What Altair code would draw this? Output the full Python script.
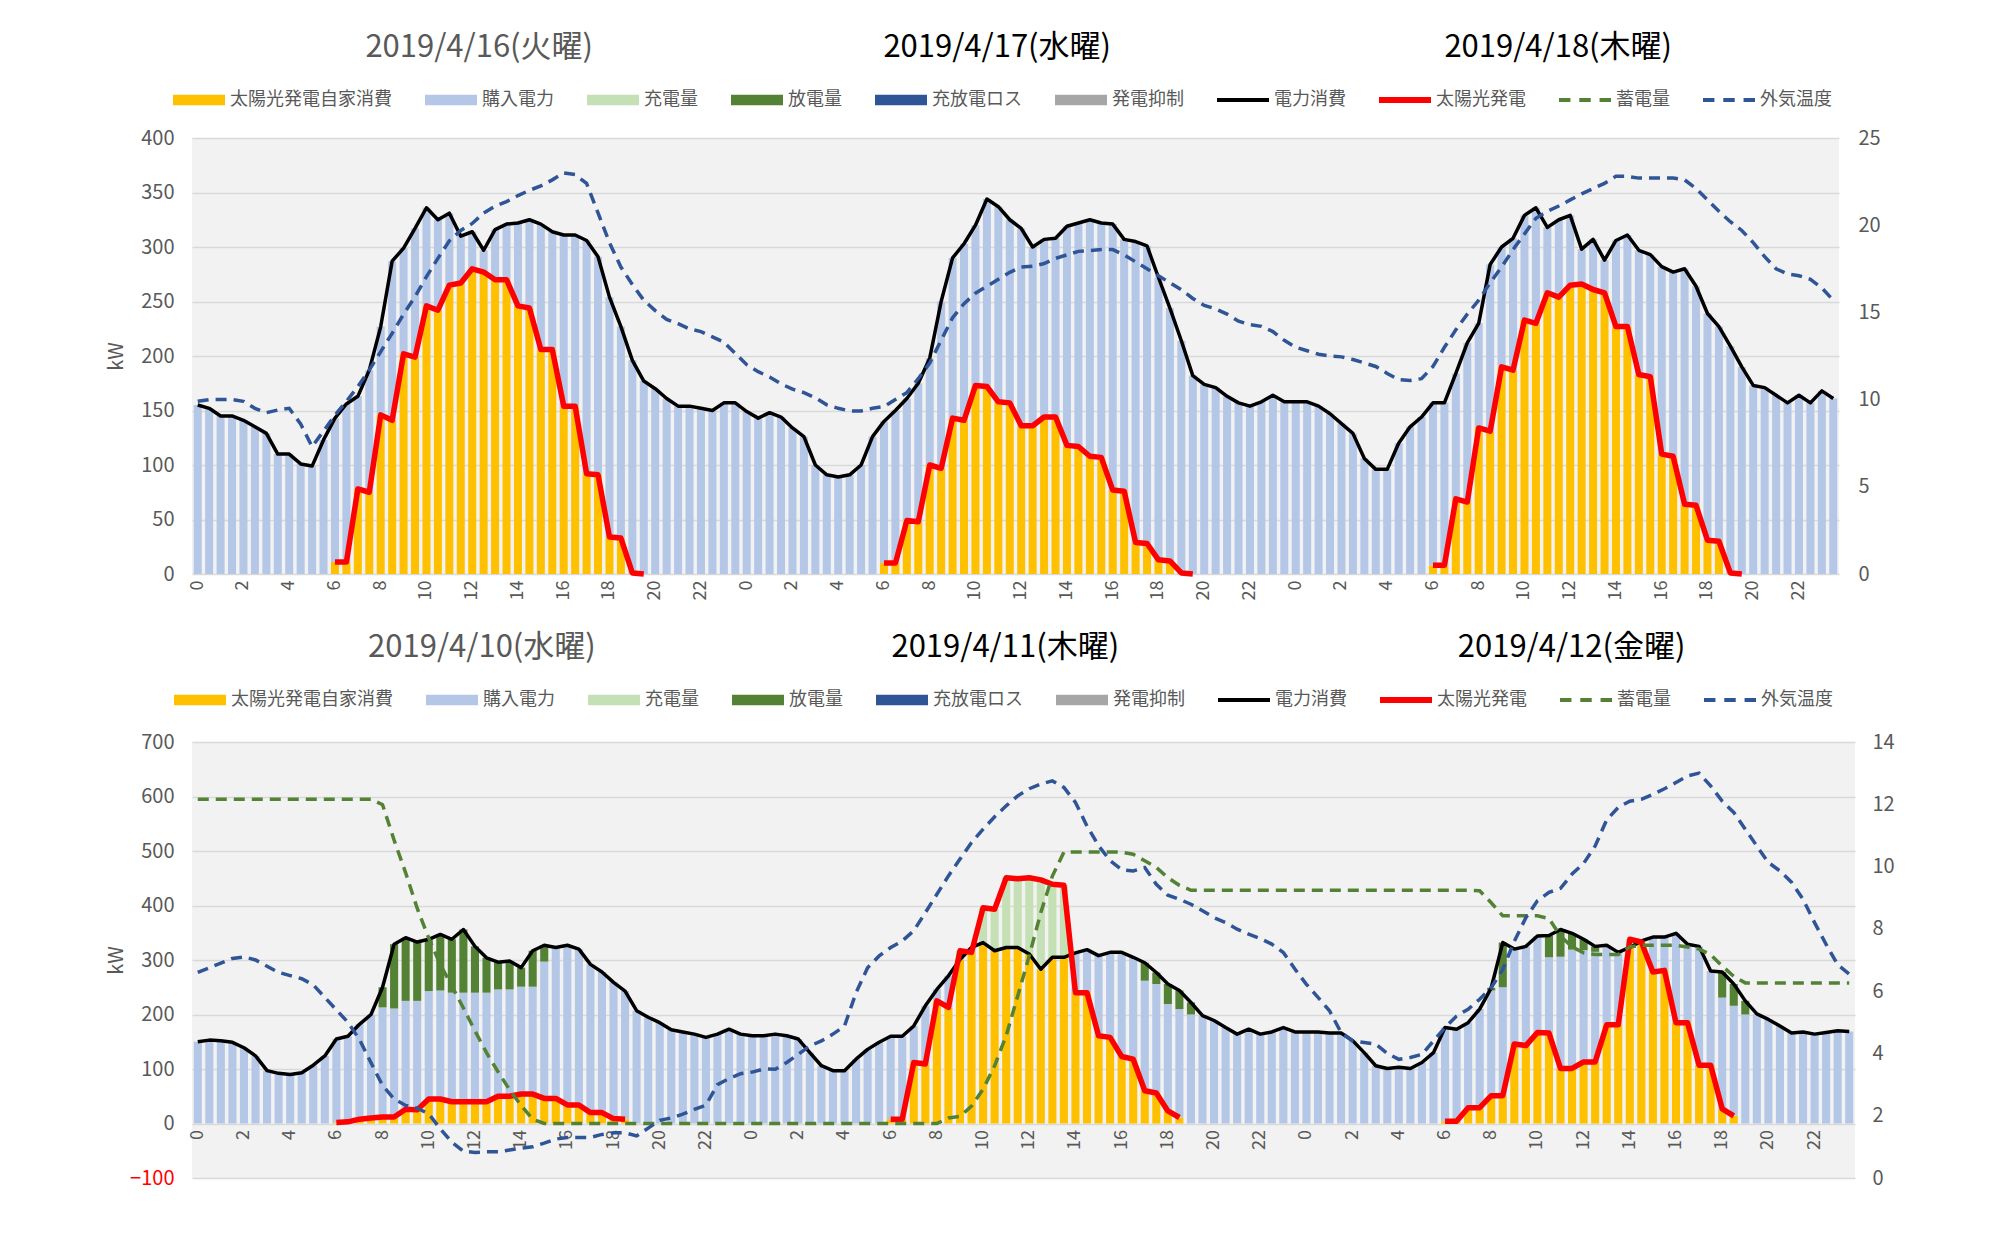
import altair as alt
import pandas as pd

FONT = "Noto Sans CJK JP"
GREY = "#595959"
N = 144
slots = list(range(N))
tick_slots = list(range(0, N, 4))

# ---------------- legend ----------------
legend_names = ["太陽光発電自家消費", "購入電力", "充電量", "放電量", "充放電ロス",
                "発電抑制", "電力消費", "太陽光発電", "蓄電量", "外気温度"]
legend_colors = ["#FFC000", "#B4C7E7", "#C5E0B4", "#548235", "#2F5597",
                 "#A6A6A6", "#000000", "#FF0000", "#548235", "#2F5597"]
RECT = "M-1,-0.2H1V0.2H-1Z"
LINE = "M-1,-0.075H1V0.075H-1Z"
THICK = "M-1,-0.12H1V0.12H-1Z"
DASH = "M-1,-0.075H-0.56V0.075H-1Z M-0.22,-0.075H0.22V0.075H-0.22Z M0.56,-0.075H1V0.075H0.56Z"
legend_shapes = [RECT] * 6 + [LINE, THICK, DASH, DASH]
bar_colors = ["#FFC000", "#B4C7E7", "#C5E0B4", "#548235"]

# ---------------- top panel (2019/4/16-18) ----------------
top_titles = ["2019/4/16(火曜)", "2019/4/17(水曜)", "2019/4/18(木曜)"]
top_consumption = [
    155, 152, 145, 145, 141, 135, 129, 110, 110, 101, 99, 123, 143, 156, 163, 187, 227, 287, 299, 317,
    336, 325, 331, 310, 314, 297, 316, 321, 322, 325, 321, 314, 311, 311, 306, 291, 254, 227, 196, 177,
    170, 161, 154, 154, 152, 150, 157, 157,
    149, 143, 148, 144, 134, 126, 100, 91, 89, 91, 100, 126, 140, 150, 161, 175, 198, 250, 290, 303,
    320, 344, 337, 325, 317, 300, 307, 308, 319, 322, 325, 322, 321, 307, 305, 301, 272, 244, 214, 182,
    174, 171, 163, 157, 154, 158, 164, 158,
    158, 158, 154, 147, 138, 129, 106, 96, 96, 120, 135, 144, 157, 157, 184, 212, 230, 284, 300, 308,
    329, 336, 318, 325, 329, 298, 307, 288, 306, 311, 297, 293, 282, 277, 280, 264, 239, 227, 209, 190,
    173, 171, 164, 157, 164, 157, 168, 161]
top_solar_runs = {
    12: [11, 11, 78, 75, 146, 141, 202, 199, 246, 242, 265, 267, 280, 277, 270, 270, 246, 244, 206, 206,
         154, 154, 92, 91, 34, 33, 1, 0],
    60: [10, 10, 49, 48, 100, 97, 143, 141, 173, 172, 158, 157, 136, 136, 144, 144, 118, 117, 108, 107,
         77, 76, 29, 28, 13, 12, 1, 0],
    108: [8, 8, 69, 66, 134, 131, 190, 187, 233, 230, 258, 254, 265, 266, 261, 258, 227, 227, 183, 181,
          110, 108, 64, 63, 31, 30, 1, 0],
}
top_temperature = [
    9.9, 10.0, 10.0, 10.0, 9.9, 9.5, 9.25, 9.4, 9.5, 8.6, 7.3, 8.2, 9.1, 9.9, 10.75, 11.7, 12.75, 13.8, 14.9, 15.9,
    17.05, 18.1, 19.1, 19.7, 20.1, 20.7, 21.1, 21.35, 21.7, 22.0, 22.25, 22.6, 23.0, 22.9, 22.4, 20.7, 19.0, 17.6, 16.6, 15.7,
    15.1, 14.6, 14.35, 14.05, 13.9, 13.6, 13.3, 12.65,
    12.0, 11.6, 11.3, 10.9, 10.6, 10.4, 10.1, 9.7, 9.5, 9.35, 9.35, 9.5, 9.6, 10.0, 10.4, 11.2, 12.1, 13.4, 14.7, 15.5,
    16.1, 16.5, 16.9, 17.3, 17.6, 17.65, 17.8, 18.1, 18.3, 18.5, 18.55, 18.6, 18.6, 18.3, 17.9, 17.5, 17.1, 16.7, 16.3, 15.8,
    15.4, 15.2, 14.9, 14.5, 14.3, 14.2, 13.9, 13.4,
    13.0, 12.8, 12.6, 12.5, 12.45, 12.3, 12.1, 11.9, 11.5, 11.15, 11.1, 11.2, 11.9, 13.0, 14.0, 14.9, 15.7, 16.7, 17.6, 18.6,
    19.5, 20.4, 20.8, 21.1, 21.45, 21.8, 22.1, 22.4, 22.8, 22.8, 22.7, 22.7, 22.7, 22.7, 22.6, 22.1, 21.45, 20.8, 20.2, 19.7,
    19.0, 18.2, 17.5, 17.2, 17.1, 16.9, 16.4, 15.7]

# ---------------- bottom panel (2019/4/10-12) ----------------
bottom_titles = ["2019/4/10(水曜)", "2019/4/11(木曜)", "2019/4/12(金曜)"]
bottom_consumption = [
    150, 153, 152, 149, 139, 124, 97, 92, 90, 93, 107, 124, 155, 160, 182, 200, 250, 329, 341, 333,
    338, 347, 338, 356, 325, 304, 296, 298, 286, 317, 327, 323, 327, 320, 292, 278, 259, 243, 207, 195,
    185, 172, 168, 164, 158, 164, 173, 164,
    161, 161, 164, 161, 155, 130, 106, 97, 97, 118, 136, 149, 160, 160, 179, 216, 246, 271, 301, 323,
    332, 317, 323, 323, 311, 283, 305, 305, 313, 319, 308, 314, 314, 305, 295, 277, 256, 244, 222, 198,
    189, 176, 164, 173, 164, 168, 176, 168,
    168, 168, 166, 166, 152, 130, 106, 101, 103, 101, 112, 130, 176, 173, 185, 210, 249, 332, 320, 325,
    344, 345, 356, 349, 338, 325, 327, 314, 323, 335, 342, 342, 349, 329, 325, 280, 278, 256, 225, 201,
    191, 179, 166, 168, 164, 167, 170, 169]
bottom_solar_runs = {
    12: [2, 3, 8, 10, 12, 12, 26, 25, 45, 45, 40, 40, 40, 40, 50, 50, 54, 54, 46, 46, 34, 34, 20, 20, 9, 8],
    60: [8, 8, 112, 109, 225, 213, 317, 314, 396, 393, 451, 449, 451, 447, 439, 437, 240, 240, 161, 158,
         123, 118, 60, 56, 23, 11],
    108: [4, 4, 29, 29, 51, 51, 146, 143, 167, 166, 101, 101, 113, 113, 181, 181, 338, 333, 278, 281,
          185, 185, 107, 107, 27, 14],
}
bottom_discharge = {16: 37, 17: 118, 18: 116, 19: 108, 20: 95, 21: 103, 22: 98, 23: 116, 24: 85, 25: 64,
                    26: 50, 27: 52, 28: 35, 29: 66, 30: 30,
                    82: 33, 83: 21, 84: 37, 85: 34, 86: 22,
                    112: 5, 113: 82, 117: 40, 118: 50, 119: 30, 120: 20, 121: 10, 132: 47, 133: 40, 134: 25}
bottom_storage = ([595] * 16
                  + [585, 520, 460, 395, 340, 292, 252, 212, 170, 130, 95, 62, 33, 8]
                  + [0] * 35
                  + [10, 13, 32, 63, 106, 161, 234, 308, 387, 454, 498]
                  + [498] * 5
                  + [494, 482, 470, 451, 437, 428]
                  + [428] * 24
                  + [427, 405, 381, 381, 381, 381, 376, 344, 324, 313, 310, 310, 310, 324, 327, 327, 327, 327,
                     324, 320, 310, 289, 270, 258]
                  + [258] * 9)
bottom_temperature = [
    6.6, 6.75, 6.9, 7.05, 7.1, 7.0, 6.8, 6.6, 6.5, 6.4, 6.2, 5.8, 5.4, 5.0, 4.45, 3.7, 2.97, 2.54, 2.33, 2.24,
    2.06, 1.58, 1.15, 0.86, 0.82, 0.84, 0.84, 0.9, 0.96, 1.0, 1.12, 1.25, 1.3, 1.3, 1.3, 1.4, 1.45, 1.45, 1.35, 1.6,
    1.85, 1.93, 2.05, 2.2, 2.34, 3.0, 3.19, 3.35,
    3.4, 3.5, 3.49, 3.71, 3.97, 4.24, 4.4, 4.62, 4.88, 5.95, 6.75, 7.13, 7.4, 7.61, 7.94, 8.52, 9.11, 9.7, 10.24, 10.77,
    11.2, 11.6, 11.95, 12.27, 12.5, 12.65, 12.75, 12.54, 12.06, 11.3, 10.67, 10.19, 9.9, 9.86, 9.97, 9.43, 9.08, 8.95, 8.79, 8.58,
    8.36, 8.2, 7.99, 7.83, 7.69, 7.51, 7.24, 6.71,
    6.22, 5.8, 5.37, 4.67, 4.4, 4.35, 4.3, 4.0, 3.81, 3.87, 3.97, 4.4, 4.83, 5.2, 5.42, 5.74, 6.11, 6.7, 7.6, 8.36,
    8.9, 9.17, 9.3, 9.76, 10.1, 10.66, 11.5, 11.9, 12.1, 12.16, 12.32, 12.5, 12.7, 12.91, 13.0, 12.59, 12.1, 11.74, 11.2, 10.66,
    10.13, 9.86, 9.5, 8.95, 8.2, 7.5, 6.85, 6.55]

title_slots = [24, 72, 120]
title_colors = [GREY, "#000000", "#000000"]
title_dx = [7, -24, -12]


def expand(runs):
    out = [None] * N
    for start, vals in runs.items():
        for k, v in enumerate(vals):
            out[start + k] = v
    return out


def bar_table(cons, solar, discharge):
    rows = []
    for i in range(N):
        s = solar[i] or 0
        c = cons[i]
        d = discharge.get(i, 0)
        self_c = min(s, c)
        charge = max(s - c, 0)
        bought = c - d - self_c
        for o, val in enumerate([self_c, bought, charge, d]):
            if val > 0:
                rows.append({"i": i, "v": val, "o": o, "col": bar_colors[o]})
    return pd.DataFrame(rows)


def panel(cons, solar_runs, temp, titles, discharge, storage, ymin, ymax, ystep, tmax, tstep,
          width, height, legend_x, legend_y, title_y, x_offset, right_pad):
    solar = expand(solar_runs)
    x_enc = alt.X("i:O",
                  scale=alt.Scale(domain=slots, paddingInner=0.3, paddingOuter=0.15),
                  axis=alt.Axis(values=tick_slots, labelExpr="format((datum.value % 48) / 2, 'd')",
                                labelAngle=270, labelFont=FONT, labelFontSize=18, labelColor=GREY,
                                labelPadding=6, ticks=False, domain=False, grid=False,
                                offset=x_offset, title=None))
    label_color = {"condition": {"test": "datum.value < 0", "value": "#FF0000"}, "value": GREY}
    y_scale = alt.Scale(domain=[ymin, ymax], nice=False, zero=False)
    y_axis = alt.Axis(values=list(range(ymin, ymax + 1, ystep)), title="kW", titleFont=FONT,
                      titleFontSize=20, titleFontWeight="normal", titleColor=GREY, titlePadding=10,
                      labelFont=FONT, labelFontSize=20, labelColor=label_color, labelPadding=18,
                      ticks=False, domain=False, grid=True, gridColor="#D9D9D9", gridWidth=1.3,
                      minExtent=56, maxExtent=56)
    y_enc = alt.Y("v:Q", scale=y_scale, axis=y_axis)

    bars = alt.Chart(bar_table(cons, solar, discharge)).mark_bar().encode(
        x=x_enc, y=alt.Y("v:Q", stack="zero", scale=y_scale, axis=y_axis),
        color=alt.Color("col:N", scale=None), order=alt.Order("o:Q", sort="ascending"))

    cons_df = pd.DataFrame({"i": slots, "v": cons})
    cons_line = alt.Chart(cons_df).mark_line(color="#000000", strokeWidth=3.5, strokeJoin="round").encode(
        x=x_enc, y=y_enc)

    solar_df = pd.DataFrame([{"i": i, "v": v, "seg": i // 48} for i, v in enumerate(solar) if v is not None])
    solar_line = alt.Chart(solar_df).mark_line(color="#FF0000", strokeWidth=5.5, strokeJoin="round").encode(
        x=x_enc, y=y_enc, detail="seg:N")

    layers = [bars, cons_line, solar_line]
    if storage is not None:
        st_df = pd.DataFrame({"i": slots, "v": storage})
        layers.append(alt.Chart(st_df).mark_line(color="#548235", strokeWidth=3.5, strokeDash=[11, 7]).encode(
            x=x_enc, y=y_enc))

    leg = alt.Legend(orient="none", legendX=legend_x, legendY=legend_y, direction="horizontal", title=None,
                     labelFont=FONT, labelFontSize=18, labelColor=GREY, symbolSize=2704,
                     symbolStrokeWidth=0, labelOffset=5, columnPadding=33, labelLimit=400)
    leg_df = pd.DataFrame({"i": [0] * len(legend_names), "v": [None] * len(legend_names), "s": legend_names})
    legend_layer = alt.Chart(leg_df).mark_point(filled=True, opacity=1).encode(
        x=x_enc, y=y_enc,
        color=alt.Color("s:N", scale=alt.Scale(domain=legend_names, range=legend_colors), legend=leg),
        shape=alt.Shape("s:N", scale=alt.Scale(domain=legend_names, range=legend_shapes), legend=leg))
    layers.append(legend_layer)

    for k in range(3):
        tdf = pd.DataFrame({"i": [title_slots[k]], "txt": [titles[k]]})
        layers.append(alt.Chart(tdf).mark_text(font=FONT, fontSize=31, color=title_colors[k], dx=title_dx[k],
                                               align="center", baseline="middle").encode(
            x=x_enc, y=alt.value(title_y), text="txt:N"))

    inner = alt.layer(*layers)

    temp_df = pd.DataFrame({"i": slots, "t": temp})
    temp_line = alt.Chart(temp_df).mark_line(color="#2F5597", strokeWidth=3.5, strokeDash=[11, 7]).encode(
        x=x_enc,
        y=alt.Y("t:Q", scale=alt.Scale(domain=[0, tmax], nice=False, zero=True),
                axis=alt.Axis(orient="right", values=list(range(0, tmax + 1, tstep)), title=None,
                              labelFont=FONT, labelFontSize=20, labelColor=GREY, labelPadding=right_pad,
                              ticks=False, domain=False, grid=False)))

    return alt.layer(inner, temp_line).resolve_scale(y="independent").properties(width=width, height=height)


top = panel(top_consumption, top_solar_runs, top_temperature, top_titles, {}, None,
            0, 400, 50, 25, 5, 1647, 436, -19, -64, -90, 0, 19)
bottom = panel(bottom_consumption, bottom_solar_runs, bottom_temperature, bottom_titles, bottom_discharge,
               bottom_storage, -100, 700, 100, 14, 2, 1663, 436, -18, -68, -94, -54.5, 17)

chart = alt.vconcat(top, bottom, spacing=32).resolve_scale(
    color="independent", shape="independent"
).resolve_legend(
    color="independent", shape="independent"
).properties(
    padding={"left": 106, "top": 32, "right": 10, "bottom": 20}, background="white"
).configure_view(fill="#F2F2F2", stroke=None)

chart.save("out.html", embed_options={"renderer": "svg", "actions": False})
